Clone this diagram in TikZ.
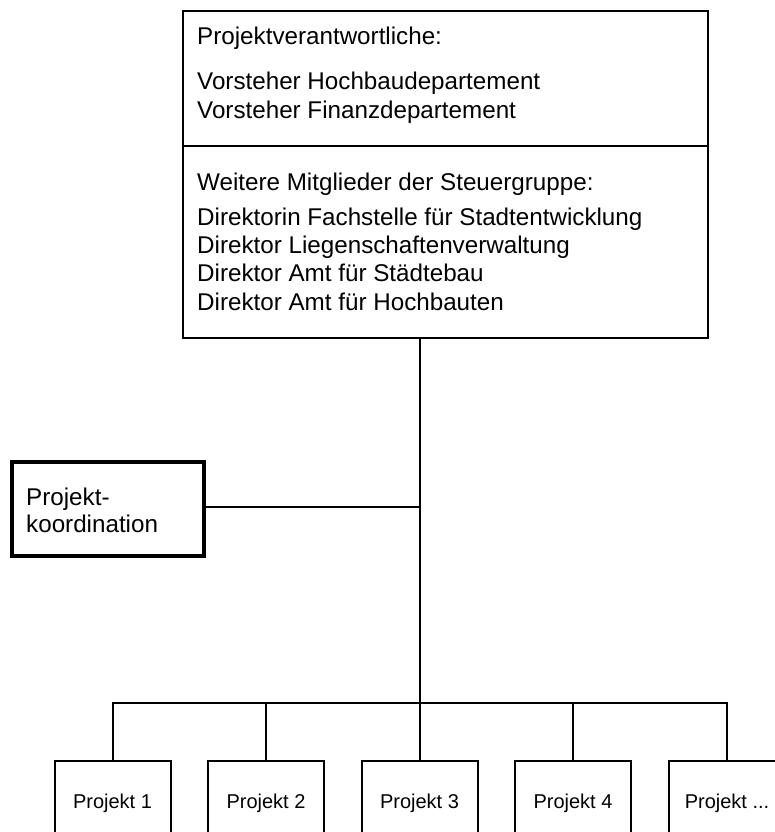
\documentclass[tikz,border=0pt]{standalone}
\usepackage{fontspec}
\setmainfont{Liberation Sans}
\begin{document}
\begin{tikzpicture}[x=1pt,y=-1pt,
  frame/.style={draw, line width=2pt, inner sep=0pt, outer sep=0pt},
  thickframe/.style={draw, line width=4pt, inner sep=0pt, outer sep=0pt},
  txt/.style={anchor=base west, inner sep=0pt, font=\fontsize{24.2}{28}\selectfont},
  projbox/.style={frame, minimum width=116pt, minimum height=84pt, font=\fontsize{20}{24}\selectfont},
  link/.style={line width=2pt}]
\useasboundingbox (0,0) rectangle (775,832);
\clip (0,0) rectangle (775,832);

% top box, two parts
\node[frame, minimum width=525pt, minimum height=135.3pt] (pv) at (445.5,78.35) {};
\node[frame, minimum width=525pt, minimum height=192pt] (sg) at (445.5,242) {};

\node[txt] (t1) at (197,45) {Projektverantwortliche:};
\node[txt] (t2) at (197,90) {Vorsteher Hochbaudepartement};
\node[txt] (t3) at (197,118) {Vorsteher Finanzdepartement};
\node[txt] (t4) at (197,190) {Weitere Mitglieder der Steuergruppe:};
\node[txt] (t5) at (197,225) {Direktorin Fachstelle für Stadtentwicklung};
\node[txt] (t6) at (197,253) {Direktor Liegenschaftenverwaltung};
\node[txt] (t7) at (197,281) {Direktor Amt für Städtebau};
\node[txt] (t8) at (197,310) {Direktor Amt für Hochbauten};

% Projektkoordination
\node[thickframe, minimum width=192pt, minimum height=94pt] (pk) at (108,509) {};
\node[txt] (k1) at (26,505) {Projekt-};
\node[txt] (k2) at (26,532) {koordination};

% projects
\node[projbox] (p1) at (112.5,803) {Projekt 1};
\node[projbox] (p2) at (266,803) {Projekt 2};
\node[projbox] (p3) at (419.5,803) {Projekt 3};
\node[projbox] (p4) at (573,803) {Projekt 4};
\node[projbox] (p5) at (727,803) {Projekt ...};

\coordinate (bus) at (419.5,703);
\coordinate (kj) at (419.5,507);

% connectors
\draw[link] (sg.south -| bus) -- (bus);
\draw[link] (pk.east |- kj) -- (kj);
\draw[link] (p1.north) |- (bus) -| (p5.north);
\draw[link] (p2.north) -- (p2.north |- bus);
\draw[link] (p3.north) -- (bus);
\draw[link] (p4.north) -- (p4.north |- bus);
\end{tikzpicture}
\end{document}
